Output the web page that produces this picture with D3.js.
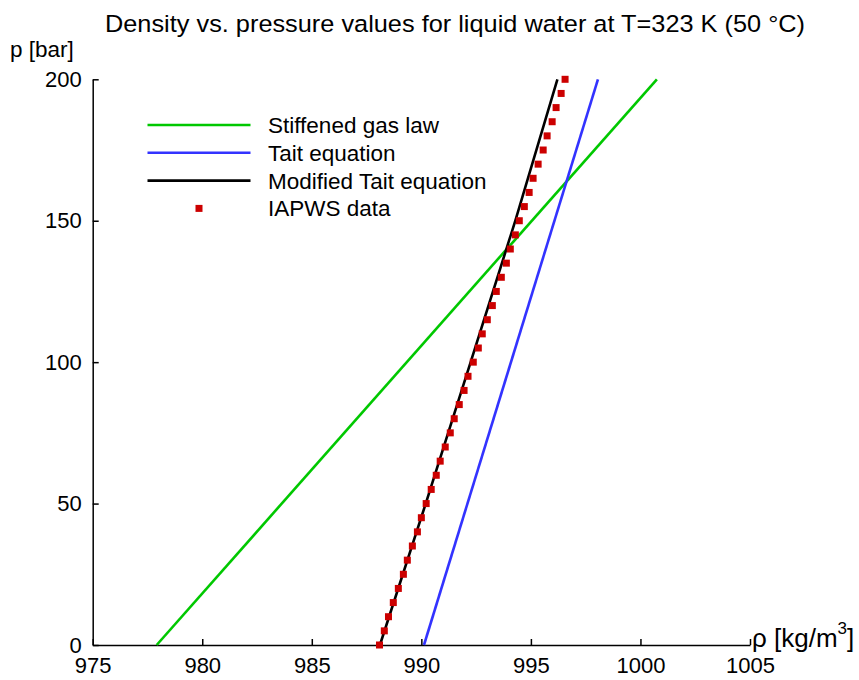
<!DOCTYPE html>
<html>
<head>
<meta charset="utf-8">
<script src="https://cdn.jsdelivr.net/npm/d3@7"></script>
<style>
  body { margin: 0; background: #fff; }
  svg text { font-family: "Liberation Sans", Arial, sans-serif; fill: #000; }
  .axis path, .axis line { stroke: #000; stroke-width: 1.5; }
  .axis text { font-size: 22px; font-family: "Liberation Sans", Arial, sans-serif; }
</style>
</head>
<body>
<div id="chart"></div>
<script>
// density (kg/m3) vs pressure (bar), liquid water at 323 K
let xTicks = [975, 980, 985, 990, 995, 1000, 1005];
let yTicks = [0, 50, 100, 150, 200];

// stiffened gas law: straight line
let stiffP = [0, 200];
let stiffRho = [977.92, 1000.75];

// Tait equation
let taitP = [0, 200];
let taitRho = [990.12, 998.06];

// modified Tait equation
let modTaitP = [0, 50, 100, 150, 200];
let modTaitRho = [988.11, 990.2, 992.25, 994.29, 996.21];

// IAPWS data, every 5 bar
let iapwsP = [0, 5, 10, 15, 20, 25, 30, 35, 40, 45, 50, 55, 60, 65, 70, 75, 80, 85, 90, 95,
              100, 105, 110, 115, 120, 125, 130, 135, 140, 145, 150, 155, 160, 165, 170, 175,
              180, 185, 190, 195, 200];
let iapwsRho = [988.09, 988.31, 988.50, 988.72, 988.95, 989.18, 989.36, 989.59, 989.82, 990.00,
                990.22, 990.45, 990.68, 990.86, 991.09, 991.32, 991.50, 991.73, 991.95, 992.13,
                992.37, 992.60, 992.78, 993.01, 993.24, 993.42, 993.65, 993.88, 994.06, 994.29,
                994.47, 994.70, 994.92, 995.10, 995.33, 995.56, 995.74, 995.97, 996.15, 996.38,
                996.56];

let width = 859, height = 680;

let svg = d3.select("#chart").append("svg")
    .attr("width", width)
    .attr("height", height);

let x = d3.scaleLinear().domain([975, 1005]).range([92.7, 750]);
let y = d3.scaleLinear().domain([0, 200]).range([645, 79.3]);

// title
svg.append("text")
    .attr("x", 105)
    .attr("y", 31.5)
    .attr("textLength", 700)
    .attr("lengthAdjust", "spacingAndGlyphs")
    .style("font-size", "24.5px")
    .text("Density vs. pressure values for liquid water at T=323 K (50 °C)");

// x axis, ticks point inwards
let xAxis = d3.axisBottom(x)
    .tickValues(xTicks)
    .tickFormat(d3.format("d"))
    .tickSizeInner(-6)
    .tickSizeOuter(0)
    .tickPadding(12);
svg.append("g")
    .attr("class", "x axis")
    .attr("transform", "translate(0," + y(0) + ")")
    .call(xAxis);

let yAxis = d3.axisLeft(y)
    .tickValues(yTicks)
    .tickFormat(d3.format("d"))
    .tickSizeInner(-6)
    .tickSizeOuter(0)
    .tickPadding(11);
svg.append("g")
    .attr("class", "y axis")
    .attr("transform", "translate(" + x(975) + ",0)")
    .call(yAxis);

svg.selectAll(".axis text").attr("fill", "#000");

// axis labels
svg.append("text")
    .attr("x", 10)
    .attr("y", 57)
    .style("font-size", "22.5px")
    .text("p [bar]");

let xlab = svg.append("text")
    .attr("x", 752)
    .attr("y", 647)
    .style("font-size", "26px");
xlab.append("tspan").text("ρ [kg/m");
xlab.append("tspan").attr("dy", -13).style("font-size", "17px").text("3");
xlab.append("tspan").attr("dy", 13).text("]");

// curves
let line = d3.line()
    .x(function(d) { return x(d.rho); })
    .y(function(d) { return y(d.p); });

function pairs(ps, rhos) {
    return ps.map(function(p, i) { return {p: p, rho: rhos[i]}; });
}

let series = [
    {name: "Stiffened gas law", color: "#00c800", data: pairs(stiffP, stiffRho)},
    {name: "Tait equation", color: "#3333ff", data: pairs(taitP, taitRho)},
    {name: "Modified Tait equation", color: "#000000", data: pairs(modTaitP, modTaitRho)}
];

series.forEach(function(s) {
    svg.append("path")
        .datum(s.data)
        .attr("fill", "none")
        .attr("stroke", s.color)
        .attr("stroke-width", 2.6)
        .attr("d", line);
});

// IAPWS squares
let sq = 7;
svg.selectAll(".iapws")
    .data(pairs(iapwsP, iapwsRho))
  .enter().append("rect")
    .attr("class", "iapws")
    .attr("x", function(d) { return x(d.rho) - sq / 2; })
    .attr("y", function(d) { return y(d.p) - sq / 2; })
    .attr("width", sq)
    .attr("height", sq)
    .attr("fill", "#cc0000");

// legend
let legendItems = series.concat([{name: "IAPWS data", color: "#cc0000", marker: true}]);
let legend = svg.selectAll(".legend")
    .data(legendItems)
  .enter().append("g")
    .attr("class", "legend")
    .attr("transform", function(d, i) { return "translate(0," + (125 + i * 27.8) + ")"; });

legend.each(function(d) {
    let g = d3.select(this);
    if (d.marker) {
        g.append("rect")
            .attr("x", 199 - sq / 2)
            .attr("y", -sq / 2)
            .attr("width", sq)
            .attr("height", sq)
            .attr("fill", d.color);
    } else {
        g.append("line")
            .attr("x1", 147.5)
            .attr("x2", 250.5)
            .attr("stroke", d.color)
            .attr("stroke-width", 2.6);
    }
});

legend.append("text")
    .attr("x", 268)
    .attr("y", 8)
    .style("font-size", "22.5px")
    .text(function(d) { return d.name; });
</script>
</body>
</html>
